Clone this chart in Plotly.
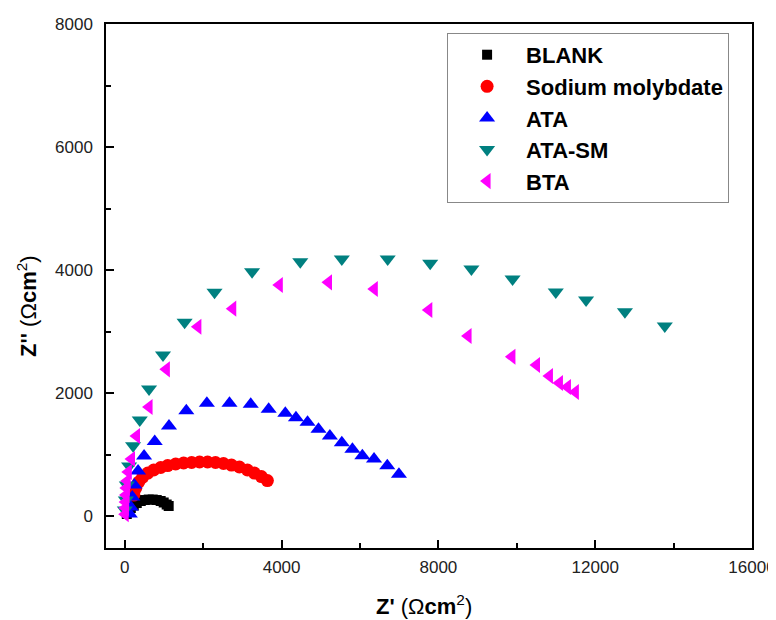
import plotly.graph_objects as go

# ---- data ----
blank_x = [51, 102, 153, 229, 305, 407, 509, 610, 712, 814, 915, 992, 1068, 1119]
blank_y = [33, 81, 130, 171, 211, 244, 260, 268, 268, 260, 244, 220, 187, 163]

sm_x = [229, 280, 356, 458, 585, 737, 916, 1093, 1297, 1500, 1704, 1907, 2111, 2314,
        2518, 2721, 2924, 3128, 3306, 3484, 3637]
sm_y = [341, 455, 553, 634, 699, 748, 789, 821, 846, 862, 870, 878, 878, 870,
        854, 829, 797, 748, 699, 642, 577]

ata_x = [127, 153, 191, 242, 338, 491, 763, 1127, 1569, 2093, 2670, 3212, 3670, 4094,
         4366, 4661, 4941, 5231, 5536, 5806, 6060, 6358, 6696, 6993]
ata_y = [33, 146, 309, 504, 732, 976, 1211, 1463, 1712, 1833, 1833, 1816, 1735, 1670,
         1598, 1524, 1410, 1301, 1192, 1085, 980, 927, 818, 678]

atasm_x = [0, 25, 51, 109, 211, 381, 618, 974, 1526, 2289, 3247, 4476, 5536, 6706,
           7790, 8842, 9892, 10994, 11767, 12758, 13775]
atasm_y = [98, 260, 504, 813, 1143, 1561, 2065, 2618, 3150, 3637, 3973, 4135, 4179, 4179,
           4109, 4016, 3854, 3642, 3512, 3322, 3089]

bta_x = [10, 15, 20, 30, 40, 60, 90, 170, 298, 618, 1060, 1864, 2754, 3942, 5196, 6365,
         7756, 8756, 9875, 10503, 10833, 11088, 11291, 11494]
bta_y = [30, 130, 228, 341, 455, 569, 715, 927, 1301, 1772, 2385, 3078, 3371, 3756, 3800,
         3691, 3350, 2927, 2590, 2455, 2276, 2163, 2098, 2016]

x_ticks = [0, 4000, 8000, 12000, 16000]
x_tick_labels = ["0", "4000", "8000", "12000", "16000"]
y_ticks = [0, 2000, 4000, 6000, 8000]
y_tick_labels = ["0", "2000", "4000", "6000", "8000"]

x_title = "<b>Z'</b> (Ω<b>cm</b><sup>2</sup>)"
y_title = "<b>Z''</b> (Ω<b>cm</b><sup>2</sup>)"

FONT = "Liberation Sans, Arial, sans-serif"

series = [
    ("BLANK", blank_x, blank_y, "square", "#000000", 10),
    ("Sodium molybdate", sm_x, sm_y, "circle", "#ff0000", 13),
    ("ATA", ata_x, ata_y, "triangle-up", "#0000ff", 14),
    ("ATA-SM", atasm_x, atasm_y, "triangle-down", "#008080", 14),
    ("BTA", bta_x, bta_y, "triangle-left", "#ff00ff", 14),
]

fig = go.Figure()
for i, (name, xs, ys, sym, col, sz) in enumerate(series):
    fig.add_trace(go.Scatter(
        x=xs, y=ys, mode="markers", name="<b>%s</b>" % name,
        legendgroup="g%d" % i,
        marker=dict(symbol=sym, color=col, size=sz, line=dict(width=0)),
    ))

axis_common = dict(
    showgrid=False, zeroline=False, showline=True, linecolor="#000000", linewidth=1.5,
    mirror=True, ticks="inside", ticklen=8, tickwidth=1.5, tickcolor="#000000",
    tickfont=dict(family=FONT, size=17, color="#222222"), automargin=False,
)

# page body has an 8px margin, so the figure is 8px smaller and margins shifted
fig.update_layout(
    width=768, height=612,
    margin=dict(l=98, r=24, t=16, b=72),
    paper_bgcolor="white", plot_bgcolor="white",
    showlegend=True,
    legend=dict(
        x=0.528, y=0.983, xanchor="left", yanchor="top",
        bordercolor="#888888", borderwidth=1, bgcolor="white",
        font=dict(family=FONT, size=22, color="#000000"),
        tracegroupgap=0, itemwidth=68,
    ),
    xaxis=dict(
        range=[-480, 16000], tickvals=x_ticks, ticktext=x_tick_labels, ticklabelstandoff=3,
        minor=dict(ticks="inside", dtick=2000, tick0=0, ticklen=5, tickwidth=1.5, tickcolor="#000000"),
        **axis_common,
    ),
    yaxis=dict(
        range=[-520, 8000], tickvals=y_ticks, ticktext=y_tick_labels, ticklabelstandoff=8,
        minor=dict(ticks="inside", dtick=1000, tick0=0, ticklen=5, tickwidth=1.5, tickcolor="#000000"),
        **axis_common,
    ),
    annotations=[
        dict(text=x_title, xref="paper", yref="paper", x=0.492, y=-0.108,
             xanchor="center", yanchor="middle", showarrow=False,
             font=dict(family=FONT, size=22, color="#000000")),
        dict(text=y_title, xref="paper", yref="paper", x=-0.1223, y=0.462,
             xanchor="center", yanchor="middle", showarrow=False, textangle=-90,
             font=dict(family=FONT, size=22, color="#000000")),
    ],
)

fig.write_html("out.html")
